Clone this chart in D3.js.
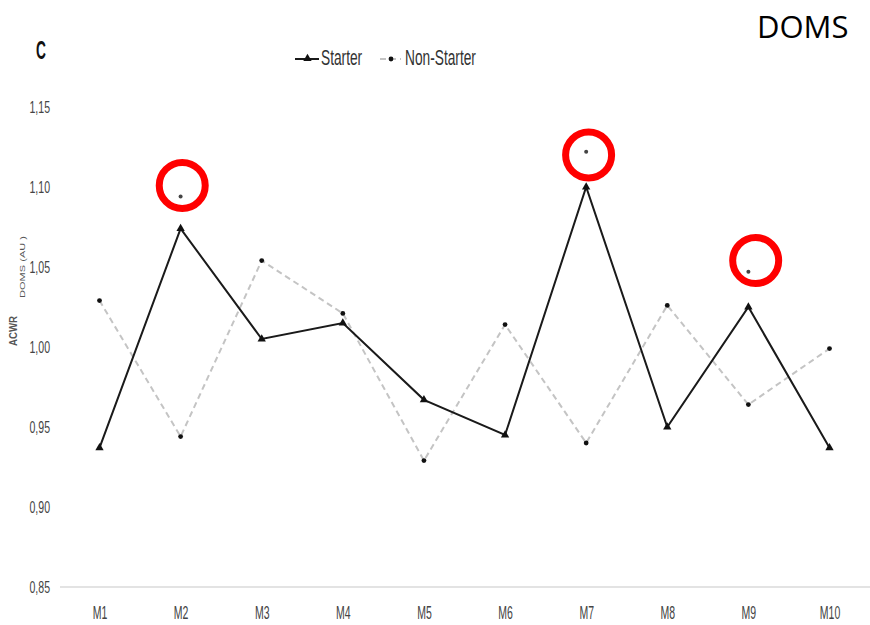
<!DOCTYPE html>
<html>
<head>
<meta charset="utf-8">
<script src="https://cdn.jsdelivr.net/npm/d3@7"></script>
<style>
  html, body { margin: 0; padding: 0; background: #fff; }
  svg { display: block; }
</style>
</head>
<body>
<svg id="chart" width="870" height="625"></svg>
<script>
// Monthly ACWR for DOMS, starters vs non-starters
const months = ["M1", "M2", "M3", "M4", "M5", "M6", "M7", "M8", "M9", "M10"];
const starter = [0.937, 1.074, 1.005, 1.015, 0.967, 0.945, 1.100, 0.950, 1.025, 0.937];
const nonStarter = [1.029, 0.944, 1.054, 1.021, 0.929, 1.014, 0.940, 1.026, 0.964, 0.999];
const yTicks = [0.85, 0.90, 0.95, 1.00, 1.05, 1.10, 1.15];

// significance markers (asterisks) and the red rings drawn around them
const sigMonths = ["M2", "M7", "M9"];
const sigValues = [1.094, 1.122, 1.047];
const ringValues = [1.101, 1.120, 1.054];
const ringShift = [0.02, 0.03, 0.09]; // fraction of a month step

const svg = d3.select("#chart");
const FONT = "'Liberation Sans', Arial, sans-serif";

const x = d3.scalePoint().domain(months).range([99.5, 829.5]);
const y = d3.scaleLinear().domain([0.85, 1.15]).range([587, 107]);
const step = x.step();

// squeeze text horizontally to mimic a condensed face
function condense(sel, k) {
  sel.each(function () {
    const w = this.getComputedTextLength();
    d3.select(this).attr("textLength", w * k).attr("lengthAdjust", "spacingAndGlyphs");
  });
}

// baseline
svg.append("line")
  .attr("x1", 60).attr("x2", 870)
  .attr("y1", y(0.85)).attr("y2", y(0.85))
  .attr("stroke", "#e3e3e3").attr("stroke-width", 2);

// y axis labels
const yAxis = svg.append("g")
  .attr("transform", "translate(50,0)")
  .call(d3.axisLeft(y).tickValues(yTicks).tickSize(0).tickPadding(0)
    .tickFormat(d => d3.format(".2f")(d).replace(".", ",")));
yAxis.select(".domain").remove();
yAxis.selectAll("text")
  .attr("font-family", FONT).attr("font-size", 16).attr("fill", "#444")
  .attr("dy", "0.36em");
condense(yAxis.selectAll("text"), 0.66);

// x axis labels
const xAxis = svg.append("g")
  .attr("transform", `translate(0,${y(0.85)})`)
  .call(d3.axisBottom(x).tickSize(0).tickPadding(0));
xAxis.select(".domain").remove();
xAxis.selectAll("text")
  .attr("font-family", FONT).attr("font-size", 17.5).attr("fill", "#444")
  .attr("dy", null).attr("y", 32);
condense(xAxis.selectAll("text"), 0.6);

// non-starter series: dashed grey line with dot markers
const line = d3.line().x((d, i) => x(months[i])).y(d => y(d));
svg.append("path")
  .datum(nonStarter)
  .attr("d", line)
  .attr("fill", "none")
  .attr("stroke", "#c4c4c4")
  .attr("stroke-width", 2)
  .attr("stroke-dasharray", "6,4");
svg.selectAll(".ns-dot")
  .data(nonStarter)
  .join("circle")
  .attr("class", "ns-dot")
  .attr("cx", (d, i) => x(months[i]))
  .attr("cy", d => y(d))
  .attr("r", 2.4)
  .attr("fill", "#111");

// starter series: solid black line with triangle markers
svg.append("path")
  .datum(starter)
  .attr("d", line)
  .attr("fill", "none")
  .attr("stroke", "#1a1a1a")
  .attr("stroke-width", 2);
const tri = d3.symbol().type(d3.symbolTriangle).size(30);
svg.selectAll(".st-tri")
  .data(starter)
  .join("path")
  .attr("class", "st-tri")
  .attr("d", tri)
  .attr("transform", (d, i) => `translate(${x(months[i])},${y(d)})`)
  .attr("fill", "#111");

// asterisk markers
svg.selectAll(".sig")
  .data(sigValues)
  .join("circle")
  .attr("class", "sig")
  .attr("cx", (d, i) => x(sigMonths[i]))
  .attr("cy", d => y(d))
  .attr("r", 2)
  .attr("fill", "#444");

// red rings
svg.selectAll(".ring")
  .data(ringValues)
  .join("circle")
  .attr("class", "ring")
  .attr("cx", (d, i) => x(sigMonths[i]) + ringShift[i] * step)
  .attr("cy", d => y(d))
  .attr("r", 23)
  .attr("fill", "none")
  .attr("stroke", "#ff0000")
  .attr("stroke-width", 7);

// legend
const lg = svg.append("g");
lg.append("line").attr("x1", 295).attr("x2", 319).attr("y1", 59).attr("y2", 59)
  .attr("stroke", "#1a1a1a").attr("stroke-width", 2);
lg.append("path").attr("d", tri).attr("transform", "translate(307.5,58.5)").attr("fill", "#111");
lg.append("text").attr("x", 321).attr("y", 65).text("Starter")
  .attr("font-family", FONT).attr("font-size", 22.5).attr("fill", "#333");
lg.append("line").attr("x1", 380).attr("x2", 401).attr("y1", 59).attr("y2", 59)
  .attr("stroke", "#c4c4c4").attr("stroke-width", 2).attr("stroke-dasharray", "6,4");
lg.append("circle").attr("cx", 391).attr("cy", 59).attr("r", 2.4).attr("fill", "#111");
lg.append("text").attr("x", 405).attr("y", 65).text("Non-Starter")
  .attr("font-family", FONT).attr("font-size", 22.5).attr("fill", "#333");
condense(lg.selectAll("text"), 0.61);

// panel letter
const letter = svg.append("text").attr("x", 36).attr("y", 59).text("C")
  .attr("font-family", FONT).attr("font-size", 25).attr("font-weight", "bold").attr("fill", "#111");
condense(letter, 0.55);

// variable title
svg.append("text").attr("x", 757).attr("y", 37.5).text("DOMS")
  .attr("font-family", "'Open Sans', sans-serif").attr("font-size", 31).attr("fill", "#000");

// y axis title
svg.append("text")
  .attr("transform", "translate(16.5,331) rotate(-90)")
  .attr("text-anchor", "middle")
  .attr("font-family", FONT).attr("font-size", 11).attr("font-weight", "bold").attr("fill", "#555")
  .attr("textLength", 30).attr("lengthAdjust", "spacingAndGlyphs")
  .text("ACWR");
svg.append("text")
  .attr("transform", "translate(24.5,267) rotate(-90)")
  .attr("text-anchor", "middle")
  .attr("font-family", FONT).attr("font-size", 6.5).attr("fill", "#555")
  .attr("textLength", 62).attr("lengthAdjust", "spacingAndGlyphs")
  .text("DOMS (AU )");
</script>
</body>
</html>
